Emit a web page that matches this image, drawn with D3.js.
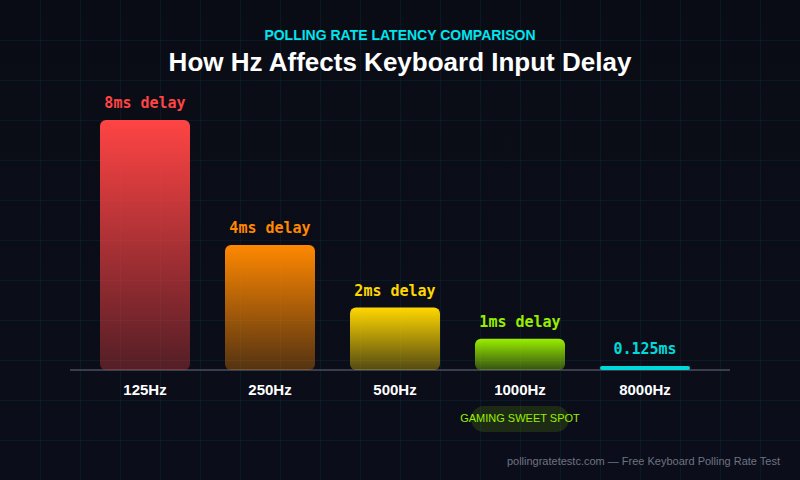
<!DOCTYPE html>
<html>
<head>
<meta charset="utf-8">
<script src="https://cdn.jsdelivr.net/npm/d3@7"></script>
<style>
  html, body { margin: 0; padding: 0; background: #0a0d16; }
  svg { display: block; }
</style>
</head>
<body>
<svg id="chart" width="800" height="480"></svg>
<script>
const categories = ["125Hz", "250Hz", "500Hz", "1000Hz", "8000Hz"];
const delays = [8, 4, 2, 1, 0.125];
const valueLabels = ["8ms delay", "4ms delay", "2ms delay", "1ms delay", "0.125ms"];
const barColors = ["#ff4444", "#ff8800", "#ffd700", "#99ee00", "#00d9d9"];
const subtitle = "POLLING RATE LATENCY COMPARISON";
const title = "How Hz Affects Keyboard Input Delay";
const badgeCategory = "1000Hz";
const badgeText = "GAMING SWEET SPOT";
const footer = "pollingratetestc.com — Free Keyboard Polling Rate Test";

const W = 800, H = 480;
const svg = d3.select("#chart");
const defs = svg.append("defs");

// background
const bg = defs.append("linearGradient").attr("id", "bg").attr("x1", 0).attr("y1", 0).attr("x2", 0).attr("y2", 1);
bg.append("stop").attr("offset", "0%").attr("stop-color", "#0a0c15");
bg.append("stop").attr("offset", "100%").attr("stop-color", "#0b0e1a");
svg.append("rect").attr("width", W).attr("height", H).attr("fill", "url(#bg)");

// grid
const grid = svg.append("g").attr("stroke", "rgba(0,229,255,0.06)").attr("stroke-width", 1);
grid.selectAll("line.v").data(d3.range(40, W, 40)).join("line")
  .attr("x1", d => d + 0.5).attr("x2", d => d + 0.5).attr("y1", 0).attr("y2", H);
grid.selectAll("line.h").data(d3.range(40, H, 40)).join("line")
  .attr("y1", d => d + 0.5).attr("y2", d => d + 0.5).attr("x1", 0).attr("x2", W);

// titles
svg.append("text").attr("x", 400).attr("y", 40).attr("text-anchor", "middle")
  .attr("font-family", "Liberation Sans, Arial, sans-serif").attr("font-weight", "bold")
  .attr("font-size", 14).attr("fill", "#00e5ee").text(subtitle);
svg.append("text").attr("x", 400).attr("y", 71).attr("text-anchor", "middle")
  .attr("font-family", "Liberation Sans, Arial, sans-serif").attr("font-weight", "bold")
  .attr("font-size", 26).attr("fill", "#ffffff").text(title);

// scales
const baseline = 370;
const x = d3.scaleBand().domain(categories).range([82.5, 707.5]).paddingInner(0.28).paddingOuter(0.14);
const y = d3.scaleLinear().domain([0, 8]).range([baseline, 120]);

// gradients per bar
categories.forEach((c, i) => {
  const g = defs.append("linearGradient").attr("id", "g" + i).attr("x1", 0).attr("y1", 0).attr("x2", 0).attr("y2", 1);
  g.append("stop").attr("offset", "0%").attr("stop-color", barColors[i]).attr("stop-opacity", 1);
  g.append("stop").attr("offset", "100%").attr("stop-color", barColors[i]).attr("stop-opacity", 0.3);
});

// axis line
svg.append("line").attr("x1", 70).attr("x2", 730).attr("y1", baseline).attr("y2", baseline)
  .attr("stroke", "#3a3e4c").attr("stroke-width", 2);

// bars
const data = categories.map((c, i) => ({ c, v: delays[i], label: valueLabels[i], color: barColors[i], i }));
svg.append("g").selectAll("rect").data(data).join("rect")
  .attr("x", d => x(d.c))
  .attr("width", x.bandwidth())
  .attr("y", d => y(d.v))
  .attr("height", d => baseline - y(d.v))
  .attr("rx", d => Math.min(6, (baseline - y(d.v)) / 2))
  .attr("fill", d => d.v < 0.5 ? d.color : `url(#g${d.i})`);

// value labels
svg.append("g").selectAll("text").data(data).join("text")
  .attr("x", d => x(d.c) + x.bandwidth() / 2)
  .attr("y", d => y(d.v) - 12)
  .attr("text-anchor", "middle")
  .attr("font-family", "DejaVu Sans Mono, monospace").attr("font-weight", "bold")
  .attr("font-size", 15).attr("fill", d => d.color)
  .text(d => d.label);

// category labels
svg.append("g").selectAll("text").data(data).join("text")
  .attr("x", d => x(d.c) + x.bandwidth() / 2)
  .attr("y", 395)
  .attr("text-anchor", "middle")
  .attr("font-family", "Liberation Sans, Arial, sans-serif").attr("font-weight", "bold")
  .attr("font-size", 15).attr("fill", "#ffffff")
  .text(d => d.c);

// badge
const bx = x(badgeCategory) + x.bandwidth() / 2;
svg.append("rect").attr("x", bx - 49).attr("y", 406).attr("width", 98).attr("height", 26).attr("rx", 13)
  .attr("fill", "rgba(153,238,0,0.13)");
svg.append("text").attr("x", bx).attr("y", 422).attr("text-anchor", "middle")
  .attr("font-family", "Liberation Sans, Arial, sans-serif")
  .attr("font-size", 11).attr("fill", "#99ee00").text(badgeText);

// footer
svg.append("text").attr("x", 780).attr("y", 465).attr("text-anchor", "end")
  .attr("font-family", "Liberation Sans, Arial, sans-serif")
  .attr("font-size", 11).attr("fill", "#6e7382").text(footer);
</script>
</body>
</html>
